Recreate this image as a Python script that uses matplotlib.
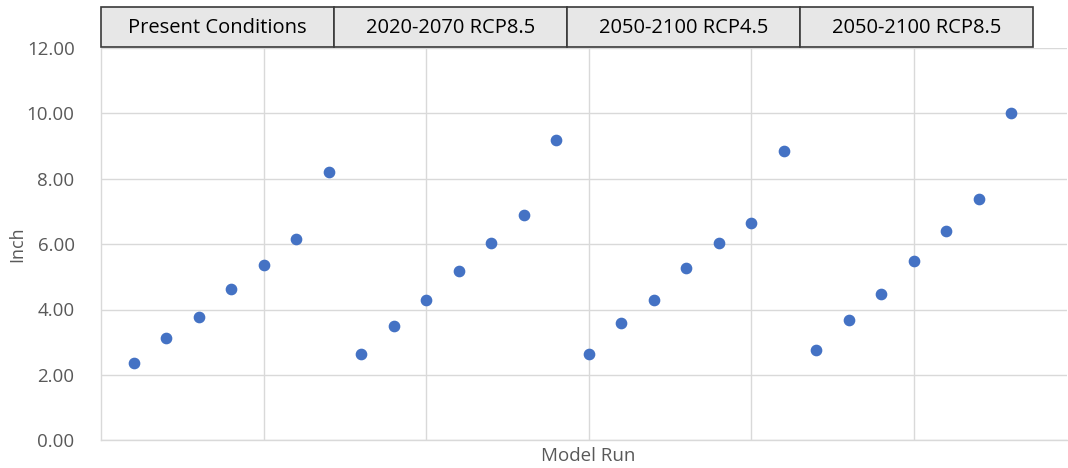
import matplotlib
matplotlib.use("Agg")
import matplotlib.pyplot as plt
from matplotlib.patches import Rectangle

# values (inches), 7 model runs per scenario
present = [2.37, 3.13, 3.78, 4.64, 5.37, 6.15, 8.20]
rcp85_2020 = [2.65, 3.50, 4.28, 5.19, 6.04, 6.90, 9.18]
rcp45_2050 = [2.65, 3.60, 4.28, 5.27, 6.04, 6.65, 8.85]
rcp85_2050 = [2.75, 3.68, 4.47, 5.47, 6.41, 7.38, 10.00]
scenarios = ["Present Conditions", "2020-2070 RCP8.5", "2050-2100 RCP4.5", "2050-2100 RCP8.5"]

values = present + rcp85_2020 + rcp45_2050 + rcp85_2050
runs = list(range(1, len(values) + 1))

W, H = 1068, 468
fig = plt.figure(figsize=(W / 100, H / 100), dpi=100)
plt.rcParams['font.family'] = ['Open Sans', 'DejaVu Sans']

left, right, top, bottom = 101, 1067, 47.9, 440.3
ax = fig.add_axes([left / W, 1 - bottom / H, (right - left) / W, (bottom - top) / H])

ax.plot(runs, values, 'o', color='#4472c4', markersize=7.4, zorder=3)

ax.set_xlim(0, 29.72)
ax.set_ylim(0, 12)
ax.set_yticks(range(0, 13, 2))
ax.set_yticklabels([f"{v:.2f}" for v in range(0, 13, 2)])
ax.set_xticks([5, 10, 15, 20, 25])
ax.tick_params(axis='x', length=0, labelbottom=False)
ax.tick_params(axis='y', length=0, labelsize=13.5, colors='#595959', pad=19)
ax.grid(True, color='#d9d9d9', linewidth=1)
ax.set_axisbelow(True)
for s in ['top', 'right']:
    ax.spines[s].set_visible(False)
for s in ['left', 'bottom']:
    ax.spines[s].set_color('#d9d9d9')
    ax.spines[s].set_linewidth(1)

fig.text(17 / W, 1 - 244 / H, "Inch", rotation=90, ha='center', va='center',
         fontsize=13, color='#595959')
fig.text(588 / W, 1 - 456 / H, "Model Run", ha='center', va='center',
         fontsize=13.5, color='#595959')

# scenario header boxes
box_l, box_r, box_t, box_b = 101, 1033, 6.7, 46.7
bw = (box_r - box_l) / len(scenarios)
for i, name in enumerate(scenarios):
    x0 = box_l + i * bw
    fig.patches.append(Rectangle((x0 / W, 1 - box_b / H), bw / W, (box_b - box_t) / H,
                                 transform=fig.transFigure, facecolor='#e7e7e7',
                                 edgecolor='#3a3a3a', linewidth=1.2))
    fig.text((x0 + bw / 2) / W, 1 - ((box_t + box_b) / 2 + 1.5) / H, name,
             ha='center', va='center', fontsize=14.5, color='#000000')

fig.savefig("out.png", dpi=100)
